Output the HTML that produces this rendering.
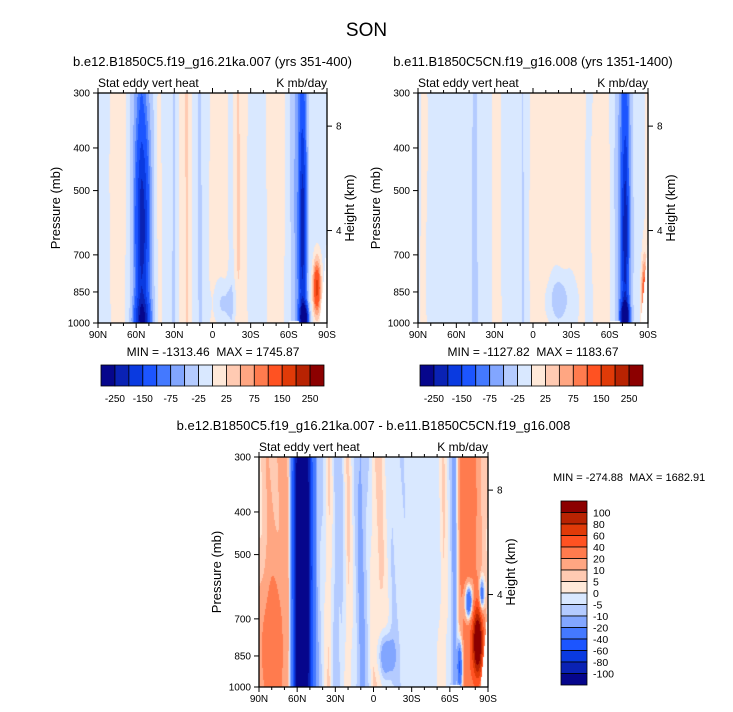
<!DOCTYPE html>
<html><head><meta charset="utf-8">
<style>
body{margin:0;background:#fff;width:733px;height:712px;overflow:hidden;font-family:"Liberation Sans",sans-serif;}
#root{position:relative;width:733px;height:712px;}
.t{position:absolute;white-space:nowrap;color:#000;}
canvas{position:absolute;}
svg{position:absolute;left:0;top:0;}
</style></head><body>
<div id="root">
<div class="t" style="left:0;width:733px;top:20px;text-align:center;font-size:19px;">SON</div>
<svg id="svg" width="733" height="712"></svg>
</div>
<script>
// ---- data ----
const latTicks=[90,60,30,0,-30,-60,-90];
const latTickLabels=["90N","60N","30N","0","30S","60S","90S"];
const presTicks=[300,400,500,700,850,1000];
const heightTicks=[4,8];
const levelsAB=[-250,-200,-150,-100,-75,-50,-25,0,25,50,75,100,150,200,250];
const labelsAB=["-250","-150","-75","-25","25","75","150","250"];
const levelsC=[-100,-80,-60,-40,-20,-10,-5,0,5,10,20,40,60,80,100];
const colors=["#06068c","#0a22b4","#0a3ae0","#1c55ff","#4479ff","#82a6ff","#b4cbff","#d9e8ff","#ffe9d9","#ffcab2","#ffa682","#ff7b4e","#ff5222","#e03a08","#b82302","#8c0000"];
// panel A column profile
const latsA=[90,83,78,70,65,61,56,52,47,42,38,35,30,25,20,15,10,5,0,-10,-15,-20,-25,-30,-40,-45,-55,-62,-66,-70,-73,-76,-80,-90];
const valsA=[-10,-10,10,10,-20,-50,-80,-50,-30,10,-10,-10,-30,10,30,-10,-30,-10,10,10,-10,30,10,-10,-10,10,10,-30,-60,-90,-60,-20,-10,-10];
const blobsA=[[-10,900,-40,9,0.05],[-82,830,180,3,0.06],[-72,970,-300,3,0.03],[55,600,-160,5,0.22],[-71,600,-150,2.5,0.25],[55,980,-150,6,0.05]];
// panel B column profile
const latsB=[90,86,80,50,45,42,33,30,27,23,10,8,5,0,-15,-30,-40,-42,-50,-58,-62,-66,-70,-73,-76,-80,-85,-90];
const valsB=[-10,10,-10,-10,-40,-10,-10,20,10,-10,-10,-30,-10,10,10,10,10,-10,10,10,-10,-40,-90,-100,-50,-10,-10,10];
const blobsB=[[-20,880,-40,7,0.05],[-25,900,-20,15,0.08],[-72,960,-300,3,0.03],[-72,620,-140,2.5,0.22],[-87,880,150,2,0.08]];
// panel C column profile
const latsC=[90,85,78,72,67,64,60,56,52,48,44,40,35,30,25,20,15,10,5,0,-5,-15,-20,-30,-50,-55,-60,-64,-68,-72,-76,-80,-85,-90];
const valsC=[5,8,10,12,10,-30,-100,-120,-100,-40,-10,-4,6,-8,-6,6,-4,-12,-6,4,6,-4,-4,-2,-2,5,-4,-15,20,25,30,20,10,6];
const blobsC=[[-82,790,130,4,0.08],[-75,640,-70,3,0.04],[-85,620,-50,2,0.04],[-10,850,-20,6,0.05],[80,800,25,9,0.15],[-68,900,-60,2,0.06],[56,600,-60,5,0.3]];
// ---- helpers ----
const NS="http://www.w3.org/2000/svg";
const svg=document.getElementById('svg');
function interp(lats,vals,lat){for(let i=0;i<lats.length-1;i++){if(lat<=lats[i]&&lat>=lats[i+1]){const f=(lats[i]-lat)/(lats[i]-lats[i+1]);return vals[i]+f*(vals[i+1]-vals[i]);}}return vals[vals.length-1];}
function field(lats,vals,blobs,lat,p){let v=interp(lats,vals,lat);const lp=Math.log10(p);
 for(const b of blobs){const dl=(lat-b[0])/b[3],dp=(lp-Math.log10(b[1]))/b[4];v+=b[2]*Math.exp(-(dl*dl+dp*dp));}
 v+=2*Math.sin(lat*0.5+lp*9);return v;}
function colIdx(levels,v){let i=0;while(i<levels.length&&v>=levels[i])i++;return i;}
function line(x1,y1,x2,y2,w){const l=document.createElementNS(NS,'line');l.setAttribute('x1',x1);l.setAttribute('y1',y1);l.setAttribute('x2',x2);l.setAttribute('y2',y2);l.setAttribute('stroke','#000');l.setAttribute('stroke-width',w||1);svg.appendChild(l);return l;}
function text(x,y,s,size,anchor,name){const t=document.createElementNS(NS,'text');t.setAttribute('x',x);t.setAttribute('y',y);t.setAttribute('font-size',size);t.setAttribute('text-anchor',anchor||'middle');t.setAttribute('font-family','Liberation Sans, sans-serif');t.setAttribute('xml:space','preserve');t.style.whiteSpace='pre';t.textContent=s;
 
 
 svg.appendChild(t);return t;}
function panel(cfg){
 const {x0,y0,w,h,lats,vals,blobs,levels,name}=cfg;
 const xs=lat=>x0+(90-lat)/180*w;
 const ys=p=>y0+h-Math.log(1000/p)/Math.log(1000/300)*h;
 const cv=document.createElement('canvas');cv.width=w;cv.height=h;cv.style.left=x0+'px';cv.style.top=y0+'px';
 
 
 document.getElementById('root').insertBefore(cv,svg);
 const ctx=cv.getContext('2d');const img=ctx.createImageData(w,h);
 const rgb=colors.map(c=>[parseInt(c.slice(1,3),16),parseInt(c.slice(3,5),16),parseInt(c.slice(5,7),16)]);
 for(let j=0;j<h;j++){const p=1000*Math.pow(300/1000,(h-j)/h);
  for(let i=0;i<w;i++){const lat=90-(i+0.5)/w*180;let c=rgb[colIdx(levels,field(lats,vals,blobs,lat,p))];
   if(lat<-84&&p>1000-(-84-lat)*60)c=[255,255,255];
   if(lat<-60&&lat>-68&&p>985)c=[255,255,255];
   const k=(j*w+i)*4;img.data[k]=c[0];img.data[k+1]=c[1];img.data[k+2]=c[2];img.data[k+3]=255;}}
 ctx.putImageData(img,0,0);
 const r=document.createElementNS(NS,'rect');r.setAttribute('x',x0);r.setAttribute('y',y0);r.setAttribute('width',w);r.setAttribute('height',h);r.setAttribute('fill','none');r.setAttribute('stroke','#000');r.setAttribute('stroke-width',1.3);
 
 
 svg.appendChild(r);
 for(let lat=90;lat>=-90;lat-=10){const x=xs(lat);const major=lat%30===0;line(x,y0+h,x,y0+h+(major?5:3));line(x,y0,x,y0-(major?5:3));}
 latTicks.forEach((lat,i)=>text(xs(lat),y0+h+15,latTickLabels[i],10,'middle',name+'-x-tick-label'));
 presTicks.forEach(p=>{line(x0,ys(p),x0-5,ys(p));text(x0-8,ys(p)+3.5,String(p),10,'end',name+'-y-tick-label');});
 heightTicks.forEach(z=>{const y=y0+h-(z===8?0.856:0.402)*h;line(x0+w,y,x0+w+5,y);text(x0+w+9,y+3.5,String(z),10,'start',name+'-height-tick-label');});
 const yl=text(x0-38,y0+h/2,'Pressure (mb)',13,'middle',name+'-y-axis-title');yl.setAttribute('transform',`rotate(-90 ${x0-38} ${y0+h/2})`);
 const hl=text(x0+w+27,y0+h/2,'Height (km)',13,'middle',name+'-height-axis-title');hl.setAttribute('transform',`rotate(-90 ${x0+w+27} ${y0+h/2})`);
 text(x0,y0-6,'Stat eddy vert heat',12,'start',name+'-left-subtitle');
 text(x0+w,y0-6,'K mb/day',12,'end',name+'-right-subtitle');
 text(x0+w/2,y0-27,cfg.title,13,'middle',name+'-title');
}
function hbar(x0,y0,w,h,name){const bw=w/16;colors.forEach((c,i)=>{const r=document.createElementNS(NS,'rect');r.setAttribute('x',x0+i*bw);r.setAttribute('y',y0);r.setAttribute('width',bw);r.setAttribute('height',h);r.setAttribute('fill',c);r.setAttribute('stroke','#000');r.setAttribute('stroke-width',0.8);
 
 
 svg.appendChild(r);});
 labelsAB.forEach((s,k)=>text(x0+(2*k+1)*bw,y0+h+16,s,10,'middle',name+'-label'));}
panel({x0:98,y0:93,w:229,h:230,lats:latsA,vals:valsA,blobs:blobsA,levels:levelsAB,name:'panel-a',title:'b.e12.B1850C5.f19_g16.21ka.007 (yrs 351-400)'});
panel({x0:418,y0:93,w:230,h:230,lats:latsB,vals:valsB,blobs:blobsB,levels:levelsAB,name:'panel-b',title:'b.e11.B1850C5CN.f19_g16.008 (yrs 1351-1400)'});
panel({x0:259,y0:457,w:229,h:230,lats:latsC,vals:valsC,blobs:blobsC,levels:levelsC,name:'panel-c',title:'b.e12.B1850C5.f19_g16.21ka.007 - b.e11.B1850C5CN.f19_g16.008'});
text(213,356,'MIN = -1313.46  MAX = 1745.87',12,'middle','panel-a-min-max');
text(533,356,'MIN = -1127.82  MAX = 1183.67',12,'middle','panel-b-min-max');
text(553,481,'MIN = -274.88  MAX = 1682.91',11,'start','panel-c-min-max');
hbar(101,365,223,21,'colorbar-a');
hbar(420,365,223,21,'colorbar-b');
// vertical colorbar
(function(){const x0=561,y0=501,w=26,h=184,bh=h/16;
 for(let i=0;i<16;i++){const r=document.createElementNS(NS,'rect');r.setAttribute('x',x0);r.setAttribute('y',y0+i*bh);r.setAttribute('width',w);r.setAttribute('height',bh);r.setAttribute('fill',colors[15-i]);r.setAttribute('stroke','#000');r.setAttribute('stroke-width',0.8);
  
  
  svg.appendChild(r);}
 for(let k=0;k<15;k++){text(x0+w+6,y0+(k+1)*bh+4,String(levelsC[14-k]),10.5,'start','colorbar-c-label');}
})();
</script>
</body></html>
